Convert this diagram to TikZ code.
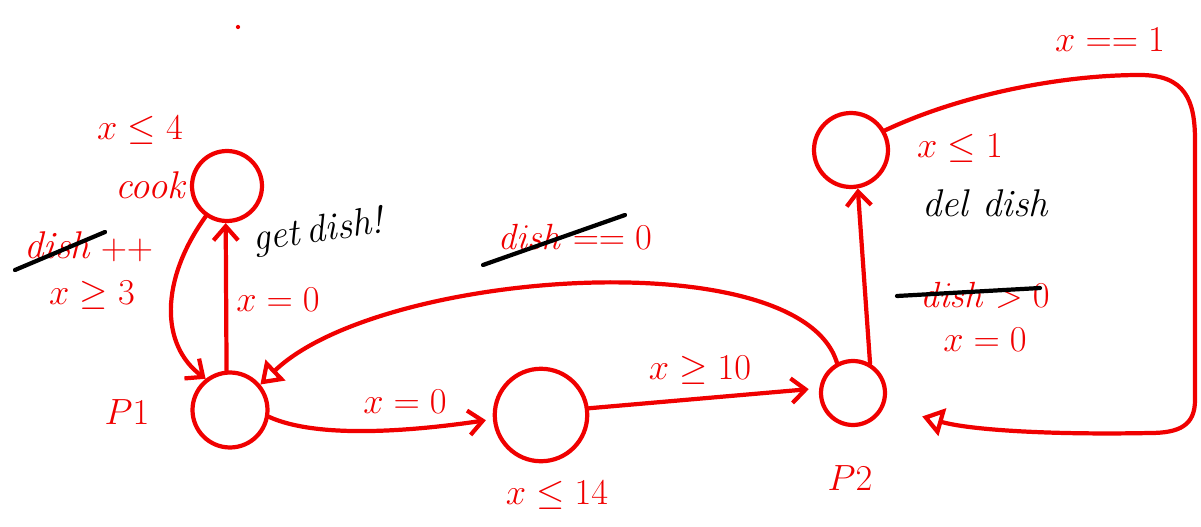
\documentclass[tikz,border=0pt]{standalone}
\usetikzlibrary{arrows.meta}
\definecolor{pen}{RGB}{240,0,0}
\begin{document}
\begin{tikzpicture}[x=0.02cm,y=-0.02cm,
  state/.style={circle,draw=pen,line width=2.4pt,minimum size=#1,inner sep=0pt},
  edge/.style={draw=pen,line width=2.4pt,line cap=round},
  chev/.style={-{Straight Barb[length=8pt,width=14pt,line width=2.4pt]}},
  tri/.style={-{Triangle[open,length=12pt,width=16pt,line width=2.4pt]}},
  lbl/.style={text=pen,font=\fontsize{22}{26}\selectfont,inner sep=1pt},
  blk/.style={text=black,font=\fontsize{22}{26}\selectfont\itshape,inner sep=1pt},
  strike/.style={draw=black,line width=2.4pt,line cap=round}]
\useasboundingbox (0,0) rectangle (1201,527);
% states
\node[state=1.5cm] (p1) at (230,410) {};
\node[state=1.4cm] (cook) at (227,186) {};
\node[state=1.85cm] (mid) at (541,415) {};
\node[state=1.28cm] (p2) at (853,393) {};
\node[state=1.48cm] (tr) at (851,150) {};
\fill[pen] (238,27) circle (1.2pt);
% labels
\node[lbl] (l1) at (140,130) {$x \leq 4$};
\node[lbl] (l2) at (150,185) {\itshape cook};
\node[lbl] (l3a) at (57,245) {\itshape dish};
\node[lbl] (l3b) at (127,250) {$++$};
\draw[strike] (15,270) -- (105,232);
\node[lbl] (l4) at (92,295) {$x \geq 3$};
\node[blk,rotate=8] (l5) at (318,232) {get\,dish!};
\node[lbl] (l6) at (278,300) {$x = 0$};
\node[lbl] (lp1) at (127,412) {$P1$};
\node[lbl] (l7) at (575,237) {$\mathit{dish} == 0$};
\draw[strike] (483,265) -- (625,215);
\node[lbl] (l8) at (405,402) {$x = 0$};
\node[lbl] (l9) at (700,370) {$x \geq 10$};
\node[lbl] (l10) at (557,495) {$x \leq 14$};
\node[lbl] (lp2) at (850,478) {$P2$};
\node[lbl] (l11) at (1110,40) {$x == 1$};
\node[lbl] (l12) at (960,148) {$x \leq 1$};
\node[blk] (l13) at (985,203) {del dish};
\node[lbl] (l14) at (985,295) {$\mathit{dish} > 0$};
\draw[strike] (897,296) -- (1040,288);
\node[lbl] (l15) at (985,340) {$x = 0$};
% connectors
\draw[edge,chev] (cook.235) .. controls (160,280) and (160,345) .. (p1.128);
\draw[edge,chev] (p1.95) -- (cook.268);
\draw[edge,chev,shorten >=4pt] (p1.-10) .. controls (320,440) and (420,430) .. (mid.185);
\draw[edge,chev,shorten >=6pt] (mid.8) -- (p2.172);
\draw[edge,tri] (p2.118) .. controls (800,240) and (380,270) .. (p1.40);
\draw[edge,chev] (p2.60) -- (tr.-80);
\draw[edge,tri,shorten >=0.78cm] (tr.30) .. controls (960,95) and (1060,75) .. (1140,75)
  .. controls (1185,75) and (1195,100) .. (1195,140) -- (1195,400)
  .. controls (1195,425) and (1180,433) .. (1150,433)
  .. controls (1050,435) and (970,430) .. (p2.-22);
\end{tikzpicture}
\end{document}
